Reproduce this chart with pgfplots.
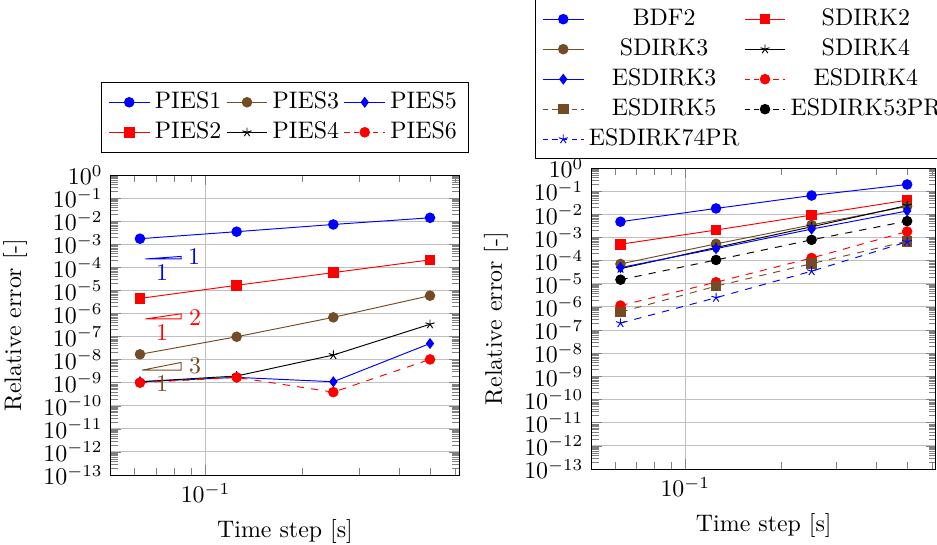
\documentclass[border=0pt]{standalone}
\usepackage{pgfplots}
\pgfplotsset{compat=1.18}
\colorlet{dbrown}{brown!60!black}
\pgfplotsset{legdash/.style={legend image post style={dash pattern=on 2.2pt off 1.8pt}}}
\begin{document}
\begin{tikzpicture}
% left: PIES schemes
\begin{axis}[at={(46.43pt,29.28pt)}, anchor=south west, scale only axis,
    width=145.6pt, height=125.5pt, xmode=log, ymode=log, ymin=1e-13, ymax=1,
    ytickten={-13,-12,...,0}, xtick={0.1},
    minor xtick={0.06,0.07,0.08,0.09,0.2,0.3,0.4,0.5,0.6},
    grid=major, xlabel={Time step [s]}, ylabel={Relative error [-]},
    legend columns=3,
    legend style={at={(0.5,1)}, anchor=south, yshift=9.4pt}]
\addplot[blue, mark=*] coordinates {(0.0625,1.74e-3) (0.125,3.5e-3) (0.25,7.2e-3) (0.5,1.4e-2)};
\addlegendentry{PIES1}
\addplot[dbrown, mark=*] coordinates {(0.0625,1.7e-8) (0.125,9.8e-8) (0.25,6.8e-7) (0.5,5.9e-6)};
\addlegendentry{PIES3}
\addplot[blue, mark=diamond*] coordinates {(0.0625,1.1e-9) (0.125,1.7e-9) (0.25,1.1e-9) (0.5,5.0e-8)};
\addlegendentry{PIES5}
\addplot[red, mark=square*] coordinates {(0.0625,4.5e-6) (0.125,1.66e-5) (0.25,5.9e-5) (0.5,2.1e-4)};
\addlegendentry{PIES2}
\addplot[black, mark=star] coordinates {(0.0625,1.1e-9) (0.125,1.95e-9) (0.25,1.58e-8) (0.5,3.4e-7)};
\addlegendentry{PIES4}
\addplot[red, dashed, mark=*, mark options={solid}, legdash] coordinates {(0.0625,1.0e-9) (0.125,1.7e-9) (0.25,3.9e-10) (0.5,1.02e-8)};
\addlegendentry{PIES6}
% slope triangles
\draw[blue] (axis cs:0.065,2.3e-4) -- (axis cs:0.084,2.3e-4) -- (axis cs:0.084,2.97e-4) -- cycle;
\node[blue] at (axis cs:0.0922,2.8e-4) {1};
\node[blue] at (axis cs:0.0733,5.67e-5) {1};
\draw[red] (axis cs:0.065,5.8e-7) -- (axis cs:0.084,5.8e-7) -- (axis cs:0.084,9.68e-7) -- cycle;
\node[red] at (axis cs:0.0928,7.0e-7) {2};
\node[red] at (axis cs:0.0733,1.43e-7) {1};
\draw[dbrown] (axis cs:0.0635,3.5e-9) -- (axis cs:0.084,3.5e-9) -- (axis cs:0.084,7.55e-9) -- cycle;
\node[dbrown] at (axis cs:0.0928,5.3e-9) {3};
\node[dbrown] at (axis cs:0.0733,8.8e-10) {1};
\end{axis}
% right: Runge-Kutta / BDF schemes
\begin{axis}[at={(247.6pt,31.8pt)}, anchor=south west, scale only axis,
    width=143.9pt, height=125.9pt, xmode=log, ymode=log, ymin=1e-13, ymax=1,
    ytickten={-13,-12,...,0}, xtick={0.1},
    minor xtick={0.06,0.07,0.08,0.09,0.2,0.3,0.4,0.5,0.6},
    grid=major, xlabel={Time step [s]}, ylabel={Relative error [-]},
    legend columns=2, legend cell align=center,
    legend style={at={(-0.166,1)}, anchor=south west, yshift=3.6pt}]
\addplot[blue, mark=*] coordinates {(0.0625,4.8e-3) (0.125,1.8e-2) (0.25,6.5e-2) (0.5,0.195)};
\addlegendentry{BDF2}
\addplot[red, mark=square*] coordinates {(0.0625,5.1e-4) (0.125,2.1e-3) (0.25,9.3e-3) (0.5,4.1e-2)};
\addlegendentry{SDIRK2}
\addplot[dbrown, mark=*] coordinates {(0.0625,7.2e-5) (0.125,5.3e-4) (0.25,3.5e-3) (0.5,2.2e-2)};
\addlegendentry{SDIRK3}
\addplot[black, mark=star] coordinates {(0.0625,4.5e-5) (0.125,3.7e-4) (0.25,2.9e-3) (0.5,2.4e-2)};
\addlegendentry{SDIRK4}
\addplot[blue, mark=diamond*] coordinates {(0.0625,5.0e-5) (0.125,3.3e-4) (0.25,2.3e-3) (0.5,1.4e-2)};
\addlegendentry{ESDIRK3}
\addplot[red, dashed, mark=*, mark options={solid}, legdash] coordinates {(0.0625,1.15e-6) (0.125,1.17e-5) (0.25,1.3e-4) (0.5,1.8e-3)};
\addlegendentry{ESDIRK4}
\addplot[dbrown, dashed, mark=square*, mark options={solid}, legdash] coordinates {(0.0625,6.0e-7) (0.125,7.9e-6) (0.25,7.4e-5) (0.5,6.9e-4)};
\addlegendentry{ESDIRK5}
\addplot[black, dashed, mark=*, mark options={solid}, legdash] coordinates {(0.0625,1.5e-5) (0.125,1.07e-4) (0.25,7.9e-4) (0.5,5.1e-3)};
\addlegendentry{ESDIRK53PR}
\addplot[blue, dashed, mark=star, mark options={solid}, legdash] coordinates {(0.0625,2.0e-7) (0.125,2.5e-6) (0.25,3.5e-5) (0.5,6.5e-4)};
\addlegendentry{ESDIRK74PR}
\end{axis}
\pgfresetboundingbox
\path[use as bounding box] (0,0) rectangle (392pt,228pt);
\end{tikzpicture}
\end{document}
